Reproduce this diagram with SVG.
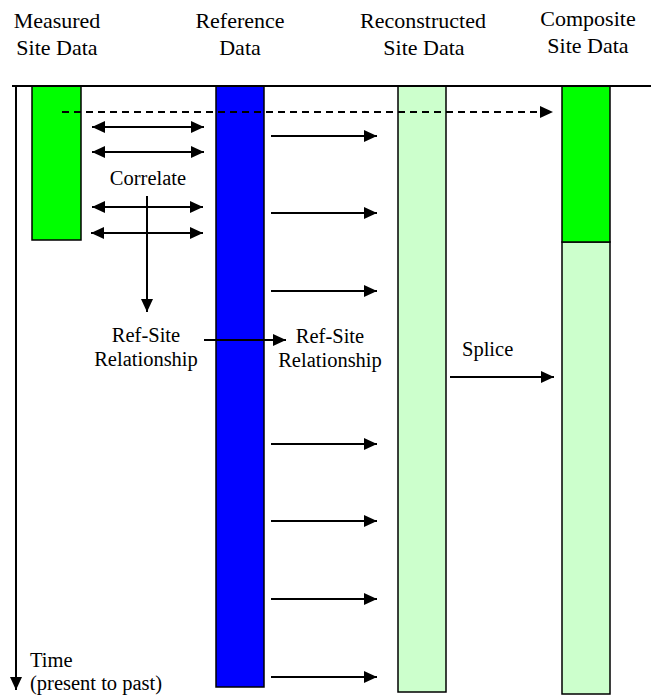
<svg xmlns="http://www.w3.org/2000/svg" width="651" height="697" viewBox="0 0 651 697" font-family="'Liberation Serif', 'Times New Roman', serif">
<style>
text{font-family:"Liberation Serif","Times New Roman",serif;fill:#000}
.h{font-size:22px;text-anchor:middle}
.l{font-size:20.5px}
.c{text-anchor:middle}
.ln{stroke:#000;stroke-width:2;fill:none}
.box{stroke:#000;stroke-width:1.5}
</style>
<defs>
<marker id="ah" markerUnits="userSpaceOnUse" markerWidth="14" markerHeight="12" refX="13" refY="6" orient="auto-start-reverse">
<path d="M0,0 L13,6 L0,12 Z" fill="#000"/>
</marker>
</defs>
<rect width="651" height="697" fill="#fff"/>
<g id="headers">
<text class="h" x="57" y="28">Measured</text>
<text class="h" x="57" y="55">Site Data</text>
<text class="h" x="240" y="28">Reference</text>
<text class="h" x="240" y="55">Data</text>
<text class="h" x="423" y="28">Reconstructed</text>
<text class="h" x="424" y="55">Site Data</text>
<text class="h" x="588" y="26">Composite</text>
<text class="h" x="588" y="53">Site Data</text>
</g>
<g id="measured"><rect class="box" x="32" y="86" width="49" height="154" fill="#00ff00"/></g>
<g id="reference"><rect class="box" x="216" y="86" width="48" height="601" fill="#0000ff"/></g>
<g id="reconstructed"><rect class="box" x="398" y="86" width="48" height="606" fill="#ccffcc"/></g>
<g id="composite">
<rect class="box" x="562" y="242" width="48" height="452" fill="#ccffcc"/>
<rect class="box" x="562" y="86" width="48" height="156" fill="#00ff00"/>
</g>
<g id="connectors">
<line x1="12" y1="86" x2="651" y2="86" stroke="#000" stroke-width="2"/>
<line class="ln" x1="16" y1="86" x2="16" y2="690" marker-end="url(#ah)"/>
<line class="ln" x1="62" y1="112" x2="553" y2="112" stroke-dasharray="7,5" marker-end="url(#ah)"/>
<line class="ln" x1="92" y1="127" x2="204" y2="127" marker-start="url(#ah)" marker-end="url(#ah)"/>
<line class="ln" x1="92" y1="152" x2="204" y2="152" marker-start="url(#ah)" marker-end="url(#ah)"/>
<line class="ln" x1="92" y1="207" x2="203" y2="207" marker-start="url(#ah)" marker-end="url(#ah)"/>
<line class="ln" x1="91" y1="233" x2="203" y2="233" marker-start="url(#ah)" marker-end="url(#ah)"/>
<line class="ln" x1="147" y1="196" x2="147" y2="312" marker-end="url(#ah)"/>
<line class="ln" x1="204" y1="340" x2="286" y2="340" marker-end="url(#ah)"/>
<line class="ln" x1="271" y1="136" x2="377" y2="136" marker-end="url(#ah)"/>
<line class="ln" x1="271" y1="213" x2="377" y2="213" marker-end="url(#ah)"/>
<line class="ln" x1="271" y1="291" x2="377" y2="291" marker-end="url(#ah)"/>
<line class="ln" x1="271" y1="444" x2="377" y2="444" marker-end="url(#ah)"/>
<line class="ln" x1="271" y1="521" x2="377" y2="521" marker-end="url(#ah)"/>
<line class="ln" x1="271" y1="599" x2="377" y2="599" marker-end="url(#ah)"/>
<line class="ln" x1="271" y1="677" x2="377" y2="677" marker-end="url(#ah)"/>
<line class="ln" x1="450" y1="377" x2="554" y2="377" marker-end="url(#ah)"/>
</g>
<g id="labels">
<text class="l c" x="148" y="185">Correlate</text>
<text class="l c" x="146" y="342">Ref-Site</text>
<text class="l c" x="146" y="366">Relationship</text>
<text class="l c" x="330" y="343">Ref-Site</text>
<text class="l c" x="330" y="367">Relationship</text>
<text class="l" x="462" y="356">Splice</text>
<text class="l" x="30" y="667">Time</text>
<text class="l" x="30" y="690">(present to past)</text>
</g>
</svg>
